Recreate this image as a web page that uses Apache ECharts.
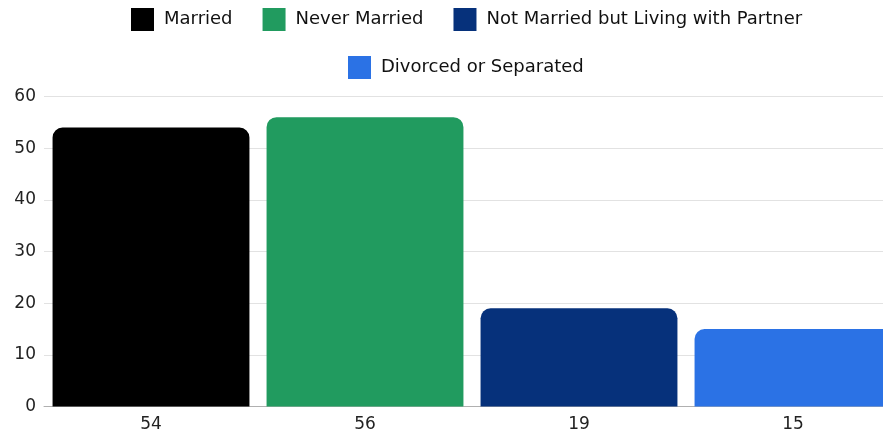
<!DOCTYPE html>
<html>
<head>
<meta charset="utf-8">
<script src="https://cdn.jsdelivr.net/npm/echarts@6/dist/echarts.min.js"></script>
<style>
  html, body { margin: 0; padding: 0; background: #fff; }
  #chart { width: 883px; height: 438px; }
</style>
</head>
<body>
<div id="chart"></div>
<script>
const categories = ['54', '56', '19', '15']
const seriesNames = ['Married', 'Never Married', 'Not Married but Living with Partner', 'Divorced or Separated']
const values = [54, 56, 19, 15]
const yTicks = [0, 10, 20, 30, 40, 50, 60]

const colors = ['#000000', '#219b5f', '#06317b', '#2b72e5']
const font = '"DejaVu Sans", "Noto Sans", sans-serif'

const chart = echarts.init(document.getElementById('chart'))

// the legend is centred on the full (wider) chart, so it sits a bit right of the window centre
const legendBase = {
  top: 3,
  itemWidth: 23,
  itemHeight: 23,
  itemGap: 30,
  icon: 'rect',
  textStyle: { fontFamily: font, fontSize: 18, color: '#111', padding: [0, 0, 0, 5] }
}

const series = seriesNames.map((name, i) => ({
  name: name,
  type: 'bar',
  stack: 'all',
  barCategoryGap: '8%',
  itemStyle: { color: colors[i], borderRadius: [10, 10, 0, 0] },
  data: values.map((v, j) => (j === i ? v : '-'))
}))

chart.setOption({
  animation: false,
  legend: [
    Object.assign({}, legendBase, { left: 126, data: seriesNames.slice(0, 3) }),
    Object.assign({}, legendBase, { left: 343, top: 51, data: seriesNames.slice(3) })
  ],
  grid: { left: 44, width: 856, top: 96.5, bottom: 31.5, outerBoundsMode: 'none' },
  xAxis: {
    type: 'category',
    data: categories,
    axisTick: { show: false },
    axisLine: { lineStyle: { color: '#b0b0b0' } },
    axisLabel: { fontFamily: font, fontSize: 17, color: '#222', margin: 10 }
  },
  yAxis: {
    type: 'value',
    min: yTicks[0],
    max: yTicks[yTicks.length - 1],
    interval: 10,
    axisLabel: { fontFamily: font, fontSize: 17, color: '#222', margin: 8 },
    splitLine: { lineStyle: { color: '#e2e2e2' } }
  },
  series: series
})
</script>
</body>
</html>
